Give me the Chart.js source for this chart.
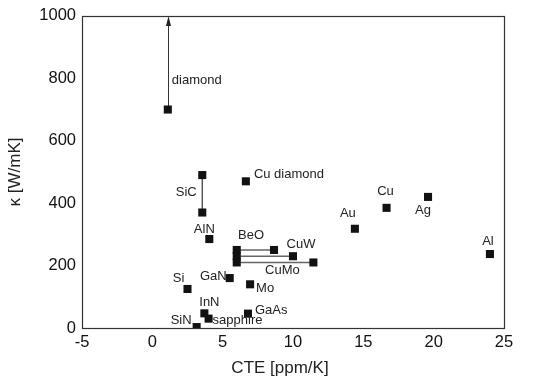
<!DOCTYPE html>
<html>
<head>
<meta charset="utf-8">
<script src="https://cdn.jsdelivr.net/npm/chart.js@4/dist/chart.umd.min.js"></script>
<style>
html,body{margin:0;padding:0;background:#fff;}
#wrap{width:549px;height:383px;}
</style>
</head>
<body>
<div id="wrap"><canvas id="c" width="549" height="383"></canvas></div>
<script>
// ---- data ----
const materials = ['diamond','SiC','Cu diamond','AlN','BeO','CuW','CuMo','Si','GaN','Mo','InN','GaAs','SiN','sapphire','Au','Cu','Ag','Al'];
const cteLow    = [1.1, 3.55, 6.65, 4.05, 6.0, 6.0, 6.0, 2.5, 5.5, 6.95, 3.7, 6.8, 3.15, 4.0, 14.4, 16.65, 19.6, 24.0];
const cteHigh   = [1.1, 3.55, 6.65, 4.05, 8.65, 10.0, 11.45, 2.5, 5.5, 6.95, 3.7, 6.8, 3.15, 4.0, 14.4, 16.65, 19.6, 24.0];
const kappaLow  = [700, 370, 470, 285, 250, 230, 210, 125, 160, 140, 47, 46, 3, 30, 318, 385, 420, 237];
const kappaHigh = [700, 490, 470, 285, 250, 230, 210, 125, 160, 140, 47, 46, 3, 30, 318, 385, 420, 237];
const openEndedUp = ['diamond'];          // value continues beyond the axis (arrow)
const xTicksRange = {min: -5, max: 25, step: 5};
const yTicksRange = {min: 0, max: 1000, step: 200};
const xTitle = 'CTE [ppm/K]';
const yTitle = 'κ [W/mK]';

// ---- label placement (style, pixels relative to the high end point) ----
const labelStyle = {
  'diamond':   {dx: 4,   dy: -29, align: 'left'},
  'SiC':       {dx: -16, dy: 17,  align: 'center'},
  'Cu diamond':{dx: 8,   dy: -7,  align: 'left'},
  'AlN':       {dx: -5,  dy: -10, align: 'center'},
  'BeO':       {dx: -23, dy: -15, align: 'center'},
  'CuW':       {dx: 8,   dy: -12, align: 'center'},
  'CuMo':      {dx: -31, dy: 8,   align: 'center'},
  'Si':        {dx: -9,  dy: -11, align: 'center'},
  'GaN':       {dx: -3,  dy: -2,  align: 'right'},
  'Mo':        {dx: 6,   dy: 4,   align: 'left'},
  'InN':       {dx: 5,   dy: -11, align: 'center'},
  'GaAs':      {dx: 7,   dy: -3,  align: 'left'},
  'SiN':       {dx: -5,  dy: -7,  align: 'right'},
  'sapphire':  {dx: 4,   dy: 2,   align: 'left'},
  'Au':        {dx: -7,  dy: -15, align: 'center'},
  'Cu':        {dx: -1,  dy: -16, align: 'center'},
  'Ag':        {dx: -5,  dy: 14,  align: 'center'},
  'Al':        {dx: -2,  dy: -13, align: 'center'}
};

const FONT = '"Liberation Sans", Arial, Helvetica, sans-serif';

const pts = [];
materials.forEach((m, i) => {
  pts.push({x: cteLow[i], y: kappaLow[i]});
  if (cteHigh[i] !== cteLow[i] || kappaHigh[i] !== kappaLow[i]) pts.push({x: cteHigh[i], y: kappaHigh[i]});
});

const datasets = [{
  type: 'scatter',
  data: pts,
  pointStyle: 'rect',
  pointRadius: 5.7,
  pointHoverRadius: 5.7,
  backgroundColor: '#111',
  borderColor: '#111',
  borderWidth: 0,
  clip: 0
}];
materials.forEach((m, i) => {
  if (cteHigh[i] !== cteLow[i] || kappaHigh[i] !== kappaLow[i]) {
    const vertical = cteHigh[i] === cteLow[i];
    datasets.push({
      type: 'scatter',
      showLine: true,
      data: [{x: cteLow[i], y: kappaLow[i]}, {x: cteHigh[i], y: kappaHigh[i]}],
      pointRadius: 0,
      borderColor: vertical ? '#444' : '#666',
      borderWidth: vertical ? 1.3 : 1.6,
      clip: 0
    });
  }
});

const framePlugin = {
  id: 'frame',
  beforeDatasetsDraw(chart) {
    const {ctx, scales} = chart;
    ctx.save();
    ctx.strokeStyle = '#333';
    ctx.fillStyle = '#222';
    ctx.lineWidth = 1;
    openEndedUp.forEach(name => {
      const i = materials.indexOf(name);
      const x = Math.round(scales.x.getPixelForValue(cteHigh[i])) + 0.5;
      const y0 = scales.y.getPixelForValue(kappaHigh[i]);
      const y1 = scales.y.getPixelForValue(scales.y.max);
      ctx.beginPath();
      ctx.moveTo(x, y0);
      ctx.lineTo(x, y1 + 8);
      ctx.stroke();
      ctx.beginPath();
      ctx.moveTo(x, y1);
      ctx.lineTo(x - 2.5, y1 + 10);
      ctx.lineTo(x + 2.5, y1 + 10);
      ctx.closePath();
      ctx.fill();
    });
    ctx.restore();
  },
  afterDatasetsDraw(chart) {
    const {ctx, chartArea: a, scales} = chart;
    ctx.save();
    ctx.font = '13px ' + FONT;
    ctx.fillStyle = '#222';
    ctx.textBaseline = 'middle';
    materials.forEach((m, i) => {
      const s = labelStyle[m];
      if (!s) return;
      const px = scales.x.getPixelForValue(cteHigh[i]);
      const py = scales.y.getPixelForValue(kappaHigh[i]);
      ctx.textAlign = s.align;
      ctx.fillText(m, px + s.dx, py + s.dy);
    });
    // x-axis title (slightly left of the plot centre, as in the reference)
    ctx.font = '17px ' + FONT;
    ctx.textAlign = 'center';
    ctx.fillText(xTitle, (a.left + a.right) / 2 - 13, 368);
    // frame
    ctx.strokeStyle = '#333';
    ctx.lineWidth = 1.2;
    ctx.strokeRect(Math.round(a.left) + 0.5, Math.round(a.top) + 0.5,
                   Math.round(a.right - a.left), Math.round(a.bottom - a.top));
    ctx.restore();
  }
};

new Chart(document.getElementById('c'), {
  type: 'scatter',
  data: {datasets},
  plugins: [framePlugin],
  options: {
    responsive: false,
    animation: false,
    events: [],
    layout: {padding: {top: 15, right: 45, left: 0, bottom: 0}},
    plugins: {legend: {display: false}, tooltip: {enabled: false}},
    scales: {
      x: {
        type: 'linear',
        min: xTicksRange.min, max: xTicksRange.max,
        ticks: {stepSize: xTicksRange.step, color: '#111', padding: 5,
                font: {family: FONT, size: 16.5}, callback: v => String(v)},
        grid: {display: false, drawTicks: false},
        border: {display: false},
        title: {display: false},
        afterFit(s) { s.height = 55; }
      },
      y: {
        type: 'linear',
        min: yTicksRange.min, max: yTicksRange.max,
        ticks: {stepSize: yTicksRange.step, color: '#111', padding: 6,
                font: {family: FONT, size: 16.5}, callback: v => String(v)},
        grid: {display: false, drawTicks: false},
        border: {display: false},
        title: {display: true, text: yTitle, color: '#222',
                font: {family: FONT, size: 17}, padding: {top: 5, bottom: 0}},
        afterFit(s) { s.width = 82; }
      }
    }
  }
});
</script>
</body>
</html>
